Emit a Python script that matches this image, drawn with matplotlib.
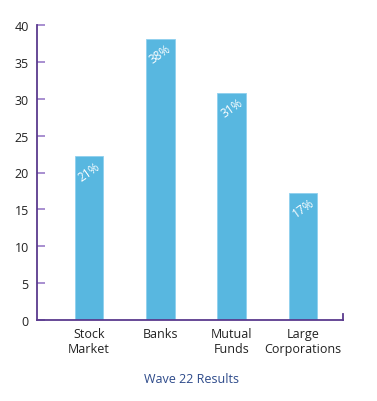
import matplotlib
matplotlib.use("Agg")
import matplotlib.pyplot as plt

categories = ["Stock\nMarket", "Banks", "Mutual\nFunds", "Large\nCorporations"]
values = [22.2, 38.1, 30.8, 17.2]
labels = ["21%", "38%", "31%", "17%"]
yticks = [0, 5, 10, 15, 20, 25, 30, 35, 40]
title = "Wave 22 Results"

plt.rcParams['font.family'] = ['Open Sans', 'DejaVu Sans']

fig = plt.figure(figsize=(3.77, 4.02), dpi=100)
ax = fig.add_axes([37/377, 1-321/402, 306/377, 295/402])

x = list(range(len(categories)))
ax.bar(x, values, width=0.40, color="#58b7e0", edgecolor="#8fd0ee", linewidth=0.6, zorder=2)

for xi, v, lab in zip(x, values, labels):
    ax.text(xi, v - 2.0, lab, color="white", fontsize=8.5, rotation=35,
            ha="center", va="center", zorder=3)

ax.set_xlim(-0.73, 3.56)
ax.set_ylim(0, 40)
ax.set_yticks(yticks)
ax.set_yticklabels([str(t) for t in yticks], fontsize=9, color="#222222")
ax.tick_params(axis='y', direction='in', length=6, width=1.2, color="#9a7cc8", pad=6)
ax.set_xticks(x)
ax.set_xticklabels(categories, fontsize=9, color="#222222", linespacing=1.2)
ax.tick_params(axis='x', length=0, pad=5)

for s in ["top", "right"]:
    ax.spines[s].set_visible(False)
ax.spines["left"].set_color("#5a3a8e")
ax.spines["bottom"].set_color("#5a3a8e")
ax.spines["left"].set_linewidth(1.3)
ax.spines["bottom"].set_linewidth(1.3)

# small upward tick at right end of x-axis
ax.plot([3.56, 3.56], [0, 0.8], color="#5a3a8e", lw=1.3, clip_on=False, zorder=4)

fig.text(192/377, 1-380/402, title, color="#2d4a8a", fontsize=9,
         ha="center", va="center")

fig.savefig("out.png", dpi=100, facecolor="white")
